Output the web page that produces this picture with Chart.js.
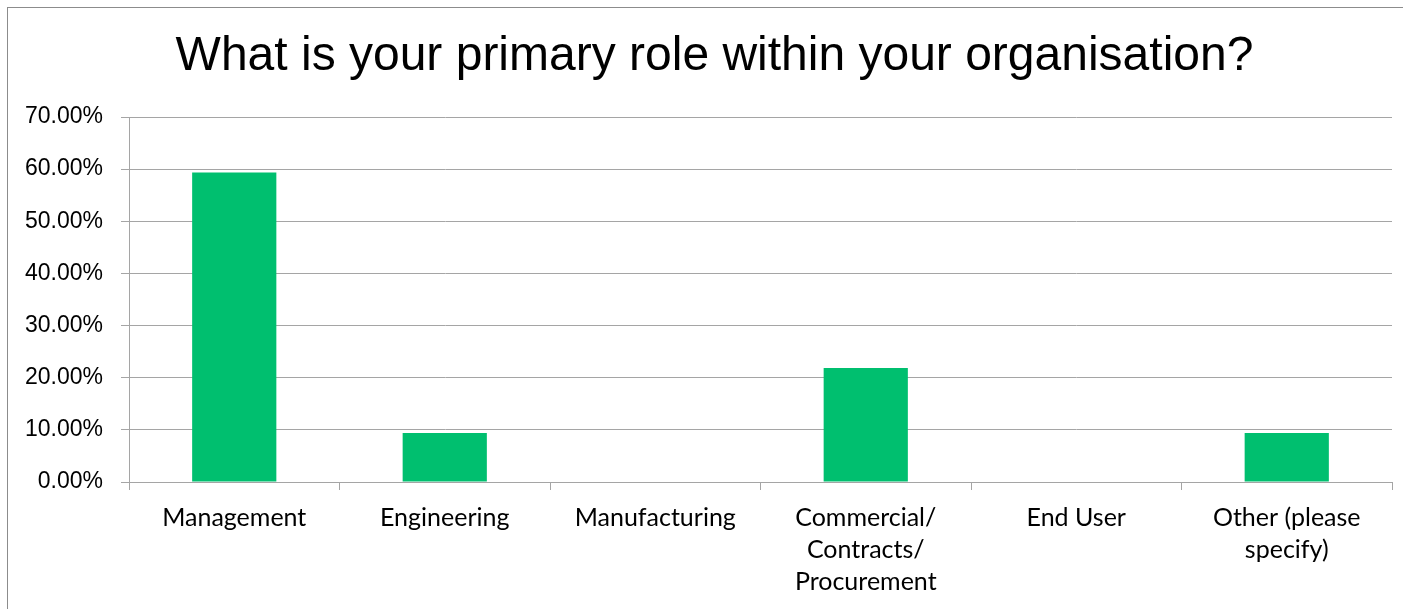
<!DOCTYPE html>
<html>
<head>
<meta charset="utf-8">
<script src="https://cdn.jsdelivr.net/npm/chart.js@4/dist/chart.umd.min.js"></script>
<style>
  html, body { margin: 0; padding: 0; background: #fff; }
  #wrap { width: 1403px; height: 609px; }
</style>
</head>
<body>
<div id="wrap"><canvas id="chart" width="1403" height="609"></canvas></div>
<script>
const roles = [
  "Management",
  "Engineering",
  "Manufacturing",
  ["Commercial/", "Contracts/", "Procurement"],
  "End User",
  ["Other (please", "specify)"]
];
const shares = [59.38, 9.38, 0, 21.88, 0, 9.38];
const yTicks = [0, 10, 20, 30, 40, 50, 60, 70];

const GRID = "#a5a5a5";
const GREEN = "#00bf6f";

// grey frame round the whole chart, open to the right and bottom
const frame = {
  id: "frame",
  beforeDraw(chart) {
    const c = chart.ctx;
    c.save();
    c.strokeStyle = "#8c8c8c";
    c.lineWidth = 1;
    c.strokeRect(7.5, 7.5, chart.width + 20, chart.height + 20);
    c.restore();
  }
};

new Chart(document.getElementById("chart"), {
  type: "bar",
  data: {
    labels: roles,
    datasets: [{
      data: shares,
      backgroundColor: GREEN,
      barPercentage: 0.4,
      categoryPercentage: 1
    }]
  },
  plugins: [frame],
  options: {
    responsive: false,
    animation: false,
    layout: { padding: { left: 37, right: 11, top: 0, bottom: 0 } },
    plugins: {
      legend: { display: false },
      tooltip: { enabled: false },
      title: {
        display: true,
        text: "What is your primary role within your organisation?",
        color: "#000",
        font: { family: "'Liberation Sans', Arial", size: 48, weight: "normal", lineHeight: 1.2 },
        padding: { top: 28, bottom: 31.4 }
      }
    },
    scales: {
      x: {
        grid: { display: true, drawOnChartArea: false, drawTicks: true, tickLength: 8, color: GRID, offset: true },
        border: { display: true, color: GRID },
        ticks: {
          color: "#000",
          maxRotation: 0,
          autoSkip: false,
          padding: 12,
          font: { family: "Lato, 'Open Sans'", size: 25, lineHeight: 1.28 }
        },
        afterFit(s) { s.height = 127; }
      },
      y: {
        min: 0,
        max: 70,
        afterBuildTicks(s) { s.ticks = yTicks.map(v => ({ value: v })); },
        grid: { color: GRID, tickLength: 8 },
        border: { display: true, color: GRID },
        ticks: {
          color: "#000",
          padding: 18,
          font: { family: "'Liberation Sans', Arial", size: 23 },
          callback: v => v.toFixed(2) + "%"
        },
        afterFit(s) {
          s.width = 92;
          // labels reach past the left padding, so don't clip them to the axis box
          s._computeLabelArea = () => null;
        }
      }
    }
  }
});
</script>
</body>
</html>
